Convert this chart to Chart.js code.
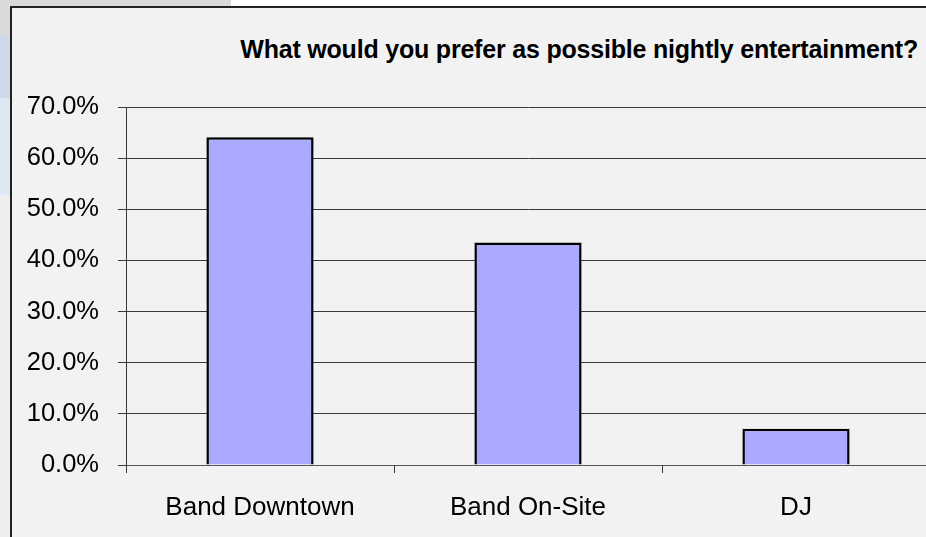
<!DOCTYPE html>
<html>
<head>
<meta charset="utf-8">
<script src="https://cdn.jsdelivr.net/npm/chart.js@4.4.0/dist/chart.umd.min.js"></script>
<style>
    html, body { margin: 0; padding: 0; }
    body { width: 926px; height: 537px; overflow: hidden; position: relative; background: #ffffff; font-family: 'Liberation Sans', Arial, sans-serif; }
    .band-top { position: absolute; left: 0; top: 0; width: 231px; height: 7px; background: #dadada; }
    .strip { position: absolute; left: 0; width: 10px; }
    .frame { position: absolute; left: 10px; top: 6px; width: 940px; height: 560px; background: #f2f2f2; border-left: 2px solid #222; border-top: 2px solid #222; }
    .title { position: absolute; right: 8px; top: 37px; font-size: 25px; line-height: 25px; font-weight: bold; letter-spacing: -0.2px; color: #000; white-space: nowrap; }
    #wrap { position: absolute; left: 12px; top: 8px; width: 940px; height: 560px; }
</style>
</head>
<body>
<div class="band-top"></div>
<div class="strip" style="top:7px;height:28px;background:#dadada"></div>
<div class="strip" style="top:35px;height:63px;background:#cdd9e7"></div>
<div class="strip" style="top:98px;height:97px;background:#dde8f5"></div>
<div class="strip" style="top:195px;height:342px;background:#eeeeee"></div>
<div class="frame"></div>
<div class="title">What would you prefer as possible nightly entertainment?</div>
<div id="wrap"><canvas id="entertainmentChart" width="940" height="560"></canvas></div>

<script>
// Datos del gráfico
const categories = ['Band Downtown', 'Band On-Site', 'DJ'];
const shares = [64.1, 43.5, 7.1];
const yTicks = [0, 10, 20, 30, 40, 50, 60, 70];

const lineColor = '#383838';

function createBarChart() {
    const ctx = document.getElementById('entertainmentChart');
    if (!ctx) return;

    new Chart(ctx, {
        type: 'bar',
        data: {
            labels: categories,
            datasets: [{
                data: shares,
                backgroundColor: '#aaaaff',
                borderColor: '#000000',
                borderWidth: 2.5,
                categoryPercentage: 1,
                barPercentage: 0.4
            }]
        },
        options: {
            responsive: false,
            animation: false,
            devicePixelRatio: 1,
            layout: {
                padding: { top: 99, right: 22, bottom: 0, left: 0 }
            },
            plugins: {
                legend: { display: false },
                title: { display: false },
                tooltip: { enabled: false }
            },
            scales: {
                x: {
                    offset: true,
                    afterFit: (scale) => { scale.height = 103; },
                    grid: {
                        display: true,
                        offset: true,
                        drawOnChartArea: false,
                        drawTicks: true,
                        tickLength: 8,
                        color: lineColor
                    },
                    border: { display: true, color: '#555555', width: 1 },
                    ticks: {
                        padding: 19,
                        color: '#000',
                        maxRotation: 0,
                        font: { family: "'Liberation Sans', Arial", size: 26 }
                    }
                },
                y: {
                    min: yTicks[0],
                    max: yTicks[yTicks.length - 1],
                    afterFit: (scale) => { scale.width = 114; },
                    afterBuildTicks: (scale) => {
                        scale.ticks = yTicks.map(v => ({ value: v }));
                    },
                    grid: {
                        color: lineColor,
                        lineWidth: 1,
                        drawTicks: true,
                        tickLength: 8
                    },
                    border: { display: true, color: lineColor, width: 1 },
                    ticks: {
                        padding: 19,
                        color: '#000',
                        font: { family: "'Liberation Sans', Arial", size: 25.5 },
                        callback: function(value) {
                            return value.toFixed(1) + '%';
                        }
                    }
                }
            }
        }
    });
}

createBarChart();
</script>
</body>
</html>
